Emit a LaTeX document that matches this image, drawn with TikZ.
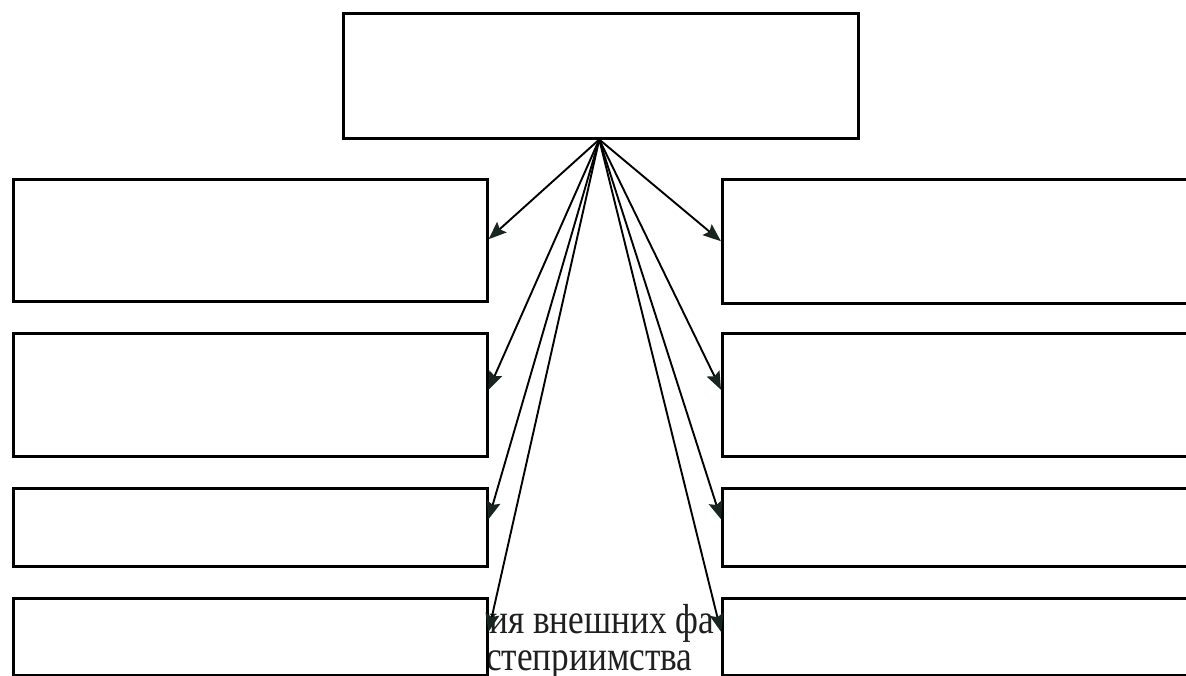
\documentclass[tikz,border=0pt]{standalone}
\usepackage{fontspec}
\setmainfont{Liberation Serif}
\usetikzlibrary{arrows.meta}
\definecolor{tipcol}{RGB}{24,38,32}
\begin{document}
\begin{tikzpicture}[x=1pt,y=-1pt,
  box/.style={draw=black, fill=white, line width=2.5pt, rectangle, inner sep=0pt, anchor=north west},
  arr/.style={draw=black, line width=1.9pt, -{Stealth[length=18pt,width=14pt,inset=3pt,color=tipcol]}},
  lbl/.style={inner sep=0pt, anchor=base west, align=left, font=\fontsize{42}{37}\selectfont, text=black!88}]
\useasboundingbox (0,0) rectangle (1186,675);
% partly hidden text
\node[lbl] (t1) at (489,670) {\scalebox{0.84}[1]{ия внешних фа}\\\hspace*{-3pt}\scalebox{0.84}[1]{степриимства}};
% top box
\node[box, minimum width=515pt, minimum height=125pt] (top) at (342,12) {};
% left boxes
\node[box, minimum width=474pt, minimum height=122pt] (l1) at (12,178) {};
\node[box, minimum width=474pt, minimum height=123pt] (l2) at (12,332) {};
\node[box, minimum width=474pt, minimum height=78pt] (l3) at (12,487) {};
\node[box, minimum width=474pt, minimum height=77pt] (l4) at (12,597) {};
% right boxes
\node[box, minimum width=480pt, minimum height=124pt] (r1) at (721,178) {};
\node[box, minimum width=480pt, minimum height=123pt] (r2) at (721,332) {};
\node[box, minimum width=480pt, minimum height=78pt] (r3) at (721,487) {};
\node[box, minimum width=480pt, minimum height=77pt] (r4) at (721,597) {};
\coordinate (apex) at ([xshift=-1.5pt]top.south);
% arrows
\draw[arr] (apex) -- ([yshift=1pt]l1.east);
\draw[arr] (apex) -- ([yshift=5pt]l2.east);
\draw[arr] (apex) -- ([yshift=8pt]l3.east);
\draw[arr] (apex) -- ([yshift=5pt]l4.east);
\draw[arr] (apex) -- ([yshift=0pt]r1.west);
\draw[arr] (apex) -- ([yshift=5pt]r2.west);
\draw[arr] (apex) -- ([yshift=8pt]r3.west);
\draw[arr] (apex) -- ([yshift=5pt]r4.west);
\end{tikzpicture}
\end{document}
